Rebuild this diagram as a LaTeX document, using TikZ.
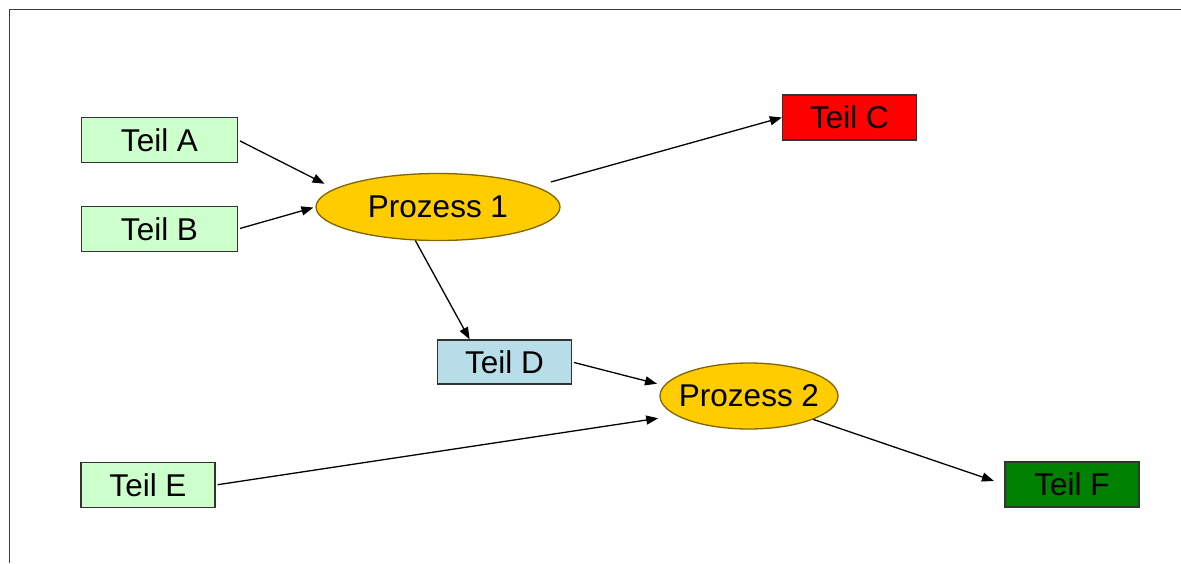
\documentclass[tikz,border=0pt]{standalone}
\usepackage{fontspec}
\setmainfont{Liberation Sans}
\usetikzlibrary{shapes.geometric,arrows.meta}
\definecolor{partgreen}{RGB}{204,255,204}
\definecolor{partblue}{RGB}{183,221,232}
\definecolor{partred}{RGB}{255,0,0}
\definecolor{partdark}{RGB}{0,128,0}
\definecolor{procfill}{RGB}{255,204,0}
\definecolor{procline}{RGB}{130,100,0}
\definecolor{framegray}{RGB}{60,60,60}
\begin{document}
\begin{tikzpicture}[x=1pt,y=1pt,
  part/.style={draw=black!80, line width=1.3pt, minimum height=45pt,
    minimum width=134pt, inner sep=0pt, font=\fontsize{31.5}{36}\selectfont},
  proc/.style={ellipse, draw=procline, fill=procfill, line width=1.3pt,
    inner sep=0pt, font=\fontsize{31.5}{36}\selectfont},
  flow/.style={-{Triangle[length=12pt,width=9pt]}, line width=1.3pt, black}]
\useasboundingbox (0,0) rectangle (1181,-563);
\draw[framegray, line width=1.8pt] (9.5,-563) -- (9.5,-9.5) -- (1181,-9.5);

\node[part, fill=partgreen, minimum width=156pt] (A) at (159.5,-140) {Teil A};
\node[part, fill=partgreen, minimum width=156pt] (B) at (159.5,-229) {Teil B};
\node[part, fill=partred] (C) at (849.5,-117.5) {Teil C};
\node[part, fill=partblue, minimum height=44pt] (D) at (504.5,-362) {Teil D};
\node[part, fill=partgreen] (E) at (148,-485) {Teil E};
\node[part, fill=partdark] (F) at (1072,-484.5) {Teil F};
\node[proc, minimum width=244pt, minimum height=67pt] (P1) at (438,-207) {\makebox[0pt]{Prozess 1}};
\node[proc, minimum width=178pt, minimum height=66pt] (P2) at (749,-396) {\makebox[0pt]{Prozess 2}};

\draw[flow, shorten <=2pt, shorten >=11pt] (A.east) -- (P1.170);
\draw[flow, shorten <=2pt, shorten >=2pt] (B.east) -- (P1.west);
\draw[flow, shorten <=16pt] (P1.12) -- (C.west);
\draw[flow] (P1.236) -- (D.147);
\draw[flow, shorten <=2pt, shorten >=7pt] (D.east) -- (P2.173);
\draw[flow, shorten <=2pt, shorten >=18pt] (E.east) -- (P2.195);
\draw[flow, shorten >=11pt] (P2.340) -- (F.west);
\end{tikzpicture}
\end{document}
